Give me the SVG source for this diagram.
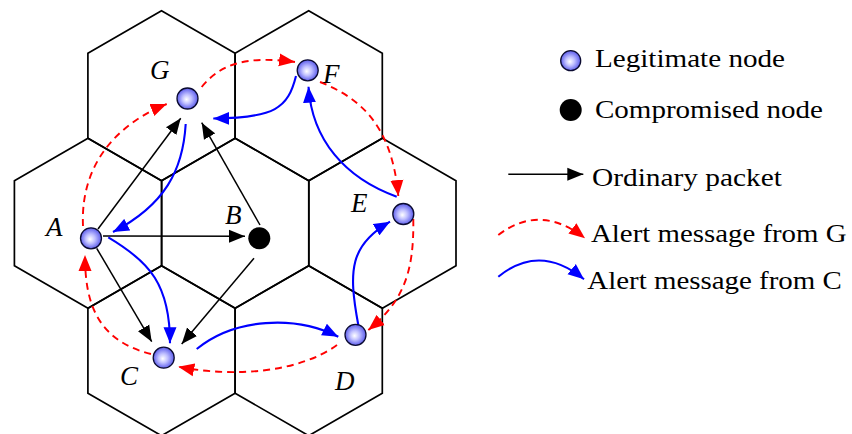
<svg xmlns="http://www.w3.org/2000/svg" xmlns:xlink="http://www.w3.org/1999/xlink" width="852" height="434" viewBox="0 0 852 434">
  <style>
    .cell { fill: none; stroke: #000; stroke-width: 1.7; stroke-linejoin: miter; }
    .legit { fill: url(#ball); stroke: #0a0a30; stroke-width: 1.3; }
    .bad { fill: #000; }
    .pkt { fill: none; stroke: #000; stroke-width: 1.5; marker-end: url(#ahBlack); }
    .alertG { fill: none; stroke: #ff0000; stroke-width: 1.9; stroke-dasharray: 7 5; marker-end: url(#ahRed); }
    .alertC { fill: none; stroke: #0000ff; stroke-width: 2.1; marker-end: url(#ahBlue); }
    .lbl { font-family: "Liberation Serif", "Times New Roman", serif; font-style: italic; font-size: 27px; fill: #000; }
    .leg { font-family: "Liberation Serif", "Times New Roman", serif; font-size: 25px; fill: #000; }
  </style>
  <defs>
    <radialGradient id="ball" cx="0.5" cy="0.5" r="0.55" fx="0.45" fy="0.55">
      <stop offset="0" stop-color="#ffffff"/>
      <stop offset="0.4" stop-color="#c0c0ff"/>
      <stop offset="1" stop-color="#4a4ae8"/>
    </radialGradient>
    <polygon id="hex" points="0,-85 73.6,-42.5 73.6,42.5 0,85 -73.6,42.5 -73.6,-42.5"/>
    <marker id="ahBlack" markerUnits="userSpaceOnUse" markerWidth="17" markerHeight="14" viewBox="0 0 17 14" refX="16" refY="7" orient="auto">
      <path d="M0,0.5 L16,7 L0,13.5 z" fill="#000"/>
    </marker>
    <marker id="ahRed" markerUnits="userSpaceOnUse" markerWidth="17" markerHeight="14" viewBox="0 0 17 14" refX="16" refY="7" orient="auto">
      <path d="M0,0.5 L16,7 L0,13.5 z" fill="#ff0000"/>
    </marker>
    <marker id="ahBlue" markerUnits="userSpaceOnUse" markerWidth="17" markerHeight="14" viewBox="0 0 17 14" refX="16" refY="7" orient="auto">
      <path d="M0,0.5 L16,7 L0,13.5 z" fill="#0000ff"/>
    </marker>
  </defs>

  <!-- hexagonal cells -->
  <g id="cells">
    <use xlink:href="#hex" href="#hex" class="cell" x="161.5" y="95.7"/>
    <use xlink:href="#hex" href="#hex" class="cell" x="308.7" y="95.7"/>
    <use xlink:href="#hex" href="#hex" class="cell" x="88" y="223.2"/>
    <use xlink:href="#hex" href="#hex" class="cell" x="235.2" y="223.2"/>
    <use xlink:href="#hex" href="#hex" class="cell" x="382.4" y="223.2"/>
    <use xlink:href="#hex" href="#hex" class="cell" x="161.5" y="350.7"/>
    <use xlink:href="#hex" href="#hex" class="cell" x="308.7" y="350.7"/>
  </g>

  <!-- connectors -->
  <g id="connectors">
    <!-- ordinary packets -->
    <path class="pkt" d="M98,229 L180.7,118.3"/>
    <path class="pkt" d="M260,225 L201.7,122.7"/>
    <path class="pkt" d="M103,236 L245,236.3"/>
    <path class="pkt" d="M96.7,248.3 L151.7,341.7"/>
    <path class="pkt" d="M254,258.3 L181.7,344"/>
    <!-- alert from G -->
    <path class="alertG" d="M83,226 C80,160 122,122 166.7,104"/>
    <path class="alertG" d="M201.7,87 C222,62 250,56 295,62"/>
    <path class="alertG" d="M320,82 C360,98 392,125 398.3,196"/>
    <path class="alertG" d="M413.3,219 C414,270 405,300 368.3,330"/>
    <path class="alertG" d="M337,345 C300,372 235,378 178.3,366.7"/>
    <path class="alertG" d="M151,354 C95,340 85,300 85,255"/>
    <!-- alert from C -->
    <path class="alertC" d="M296,76 C288,108 275,118 213.3,118.5"/>
    <path class="alertC" d="M396.7,196.7 C345,178 312,140 308.5,86.7"/>
    <path class="alertC" d="M185.7,124 C183,170 165,205 113,232"/>
    <path class="alertC" d="M108.3,237.3 C150,262 170,285 170,343.3"/>
    <path class="alertC" d="M196.7,349 C235,318 295,315 338.3,336.7"/>
    <path class="alertC" d="M358.3,325 C348,270 350,245 390,221.7"/>
  </g>

  <!-- sensor nodes -->
  <g id="node-G"><circle class="legit" cx="187.5" cy="98.5" r="10.5"/><text class="lbl" x="150" y="79">G</text></g>
  <g id="node-F"><circle class="legit" cx="307.7" cy="70.3" r="10.5"/><text class="lbl" x="323" y="83">F</text></g>
  <g id="node-E"><circle class="legit" cx="403.3" cy="214" r="10.5"/><text class="lbl" x="351" y="211.5">E</text></g>
  <g id="node-A"><circle class="legit" cx="91" cy="238.3" r="10.5"/><text class="lbl" x="46" y="236">A</text></g>
  <g id="node-B"><circle class="bad" cx="259.3" cy="238.3" r="11"/><text class="lbl" x="225" y="224">B</text></g>
  <g id="node-C"><circle class="legit" cx="163.7" cy="357.7" r="10.5"/><text class="lbl" x="120" y="385">C</text></g>
  <g id="node-D"><circle class="legit" cx="355.5" cy="334.8" r="10.5"/><text class="lbl" x="335" y="390">D</text></g>

  <!-- legend -->
  <g id="legend">
    <circle class="legit" cx="570.7" cy="60.7" r="10"/>
    <text class="leg" x="595" y="66.7" textLength="190" lengthAdjust="spacingAndGlyphs">Legitimate node</text>
    <circle class="bad" cx="570.7" cy="110" r="11"/>
    <text class="leg" x="595" y="118.3" textLength="228" lengthAdjust="spacingAndGlyphs">Compromised node</text>
    <path class="pkt" d="M508.3,174.3 L583.3,174.3"/>
    <text class="leg" x="592" y="186" textLength="190" lengthAdjust="spacingAndGlyphs">Ordinary packet</text>
    <path class="alertG" d="M498.3,235 Q540,203 585,238.3"/>
    <text class="leg" x="591" y="242.3" textLength="255.5" lengthAdjust="spacingAndGlyphs">Alert message from G</text>
    <path class="alertC" d="M498.3,276.7 Q540,243 584,279.3"/>
    <text class="leg" x="587.3" y="289.3" textLength="254.5" lengthAdjust="spacingAndGlyphs">Alert message from C</text>
  </g>
</svg>
